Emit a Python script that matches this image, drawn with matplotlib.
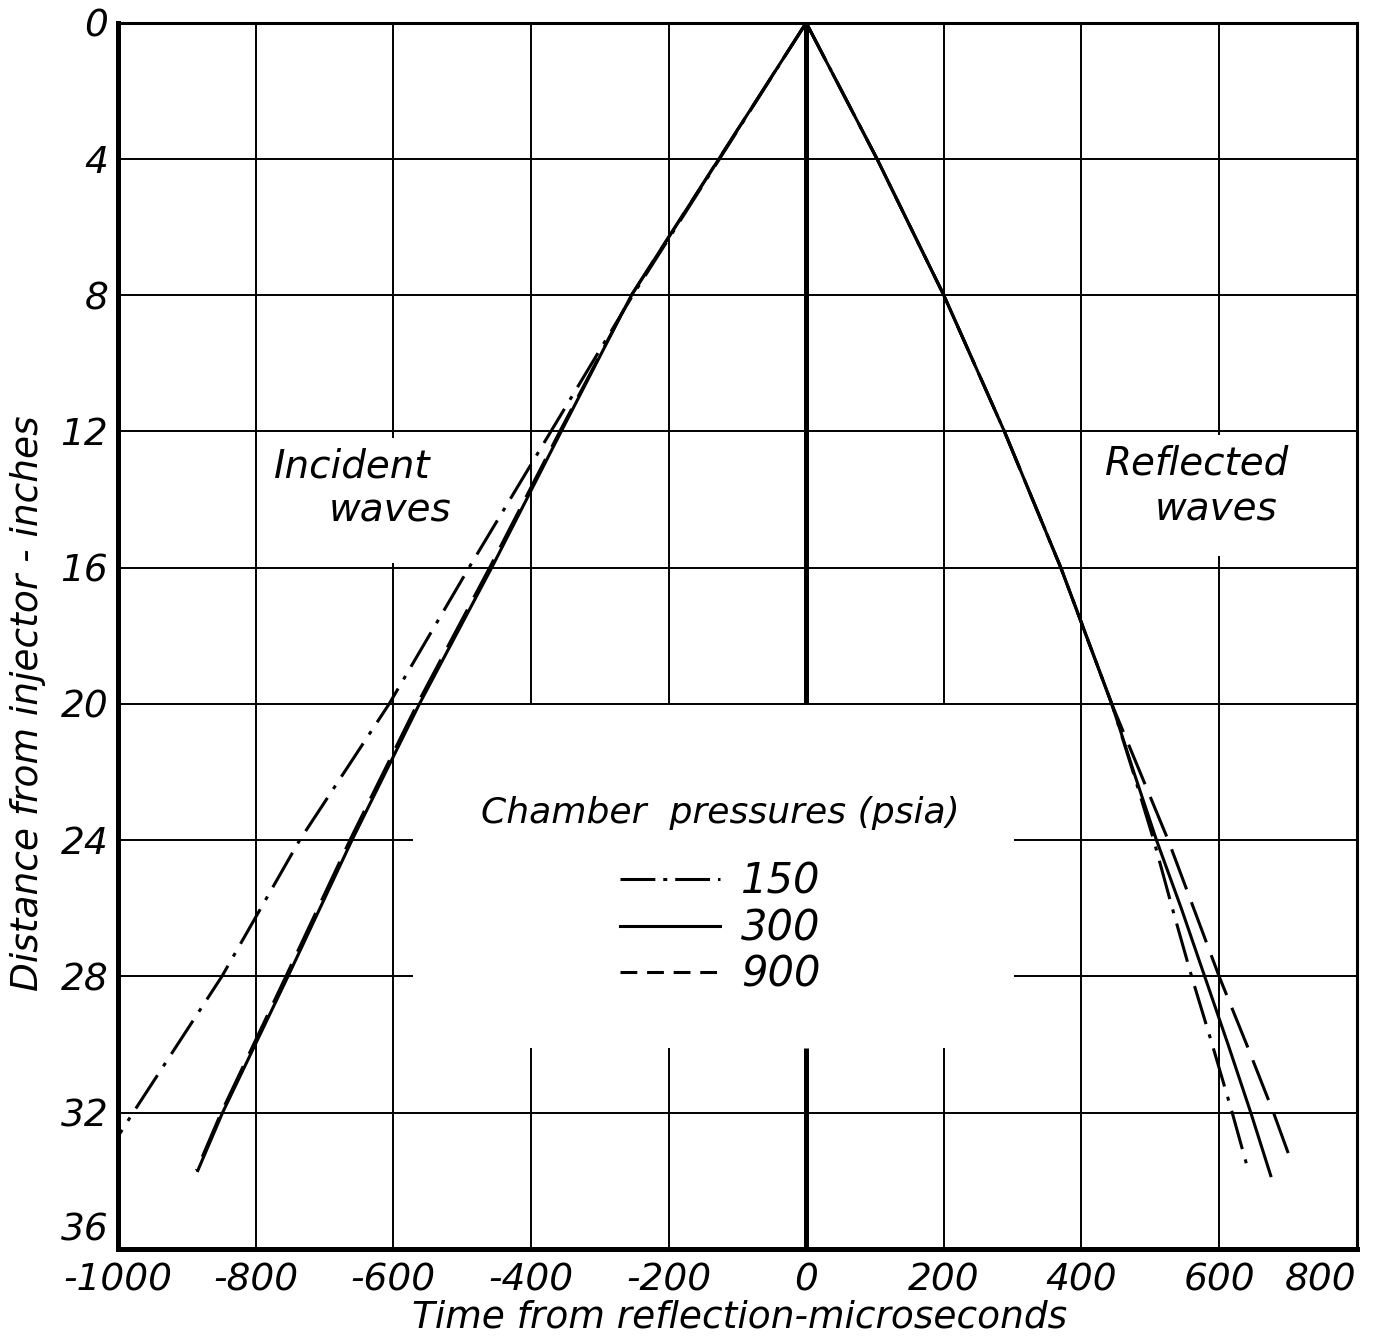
import matplotlib
matplotlib.use("Agg")
import matplotlib.pyplot as plt
from matplotlib.lines import Line2D

plt.rcParams['font.family'] = ['DejaVu Sans']
plt.rcParams['font.style'] = 'italic'

# incident waves: time from reflection (microseconds) vs distance (inches)
inc_150_t = [0, -252, -371, -490, -606, -736, -849, -978, -1000]
inc_150_d = [0, 8, 12, 16, 20, 24, 28, 32, 32.7]
inc_300_t = [0, -254, -356, -457, -562, -660, -753, -848, -884]
inc_300_d = [0, 8, 12, 16, 20, 24, 28, 32, 33.7]
inc_900_t = [0, -254, -358, -460, -565, -663, -756, -850, -886]
inc_900_d = [0, 8, 12, 16, 20, 24, 28, 32, 33.7]

# reflected waves
ref_150_t = [0, 103, 200, 288, 370, 444, 475, 505, 532, 560, 590, 619, 641]
ref_150_d = [0, 4, 8, 12, 16, 20, 22, 24, 26, 28, 30, 32, 33.6]
ref_300_t = [0, 103, 200, 288, 370, 444, 476, 509, 545, 579, 613, 646, 675]
ref_300_d = [0, 4, 8, 12, 16, 20, 22, 24, 26, 28, 30, 32, 33.85]
ref_900_t = [0, 103, 200, 288, 370, 444, 485, 526, 563, 600, 640, 679, 706]
ref_900_d = [0, 4, 8, 12, 16, 20, 22, 24, 26, 28, 30, 32, 33.5]

pressures = ['150', '300', '900']
x_ticks = [-1000, -800, -600, -400, -200, 0, 200, 400, 600, 800]
y_ticks = [0, 4, 8, 12, 16, 20, 24, 28, 32, 36]

LW = 2.2
GRID_LW = 1.4
DASHDOT = (0, (13, 3.5, 1.3, 3.5))
DASHED = (0, (14, 4.5))

fig = plt.figure(figsize=(13.78, 13.40), dpi=100)
ax = fig.add_axes([0.0856, 0.068, 0.899, 0.915])
ax.set_xlim(-1000, 800)
ax.set_ylim(36, 0)

# grid, with the blank areas around the labels and the legend
gk = dict(color='black', lw=GRID_LW, zorder=1)
for xv in [-800, 400]:
    ax.vlines(xv, 0, 36, **gk)
ax.vlines(-600, 0, 12.2, **gk)
ax.vlines(-600, 15.85, 36, **gk)
ax.vlines(600, 0, 12.1, **gk)
ax.vlines(600, 15.65, 36, **gk)
for xv in [-400, -200, 200]:
    ax.vlines(xv, 0, 20, **gk)
    ax.vlines(xv, 30.1, 36, **gk)
ax.vlines(0, 0, 20, color='black', lw=3.6, zorder=1)
ax.vlines(0, 30.1, 36, color='black', lw=3.6, zorder=1)
for yv in [4, 8, 12, 16, 20, 32]:
    ax.hlines(yv, -1000, 800, **gk)
for yv in [24, 28]:
    ax.hlines(yv, -1000, -572, **gk)
    ax.hlines(yv, 302, 800, **gk)

ax.plot(inc_150_t, inc_150_d, color='black', lw=LW, ls=DASHDOT, zorder=3)
ax.plot(inc_300_t, inc_300_d, color='black', lw=LW, zorder=3)
ax.plot(inc_900_t, inc_900_d, color='black', lw=LW, ls=DASHED, zorder=3)
ax.plot(ref_150_t, ref_150_d, color='black', lw=LW, ls=DASHDOT, zorder=3)
ax.plot(ref_300_t, ref_300_d, color='black', lw=LW, zorder=3)
ax.plot(ref_900_t, ref_900_d, color='black', lw=LW, ls=DASHED, zorder=3)

ax.text(-660, 13.35, 'Incident', fontsize=28, ha='center', va='baseline')
ax.text(-605, 14.65, 'waves', fontsize=28, ha='center', va='baseline')
ax.text(568, 13.25, 'Reflected', fontsize=28, ha='center', va='baseline')
ax.text(595, 14.6, 'waves', fontsize=28, ha='center', va='baseline')

handles = [
    Line2D([], [], color='black', lw=LW, ls=(0, (11.4, 2.6, 1.3, 2.6))),
    Line2D([], [], color='black', lw=LW),
    Line2D([], [], color='black', lw=LW, ls=(0, (5.5, 3.2))),
]
leg = ax.legend(handles, pressures, title='Chamber  pressures (psia)',
                loc='upper center', bbox_to_anchor=(0.486, 0.386),
                frameon=False, fontsize=30, title_fontsize=26,
                handlelength=2.4, handletextpad=0.5,
                labelspacing=0.1, borderpad=0)
leg._legend_box.align = 'center'
leg._legend_box.sep = 22

ax.set_xticks(x_ticks)
ax.set_xticklabels([str(v) for v in x_ticks])
ax.get_xticklabels()[-1].set_ha('right')
ax.set_yticks(y_ticks)
ax.set_yticklabels([str(v) for v in y_ticks])
ax.get_yticklabels()[-1].set_va('bottom')
ax.tick_params(length=0, labelsize=27)
ax.tick_params(axis='x', pad=10)
ax.tick_params(axis='y', pad=7)

ax.set_xlabel('Time from reflection-microseconds', fontsize=27)
ax.set_ylabel('Distance from injector - inches', fontsize=27)
ax.xaxis.set_label_coords(0.502, -0.041)
ax.yaxis.set_label_coords(-0.058, 0.445)

for side, w in [('left', 3.6), ('bottom', 3.6), ('top', 2.2), ('right', 2.2)]:
    ax.spines[side].set_linewidth(w)

fig.savefig('out.png', dpi=100)
